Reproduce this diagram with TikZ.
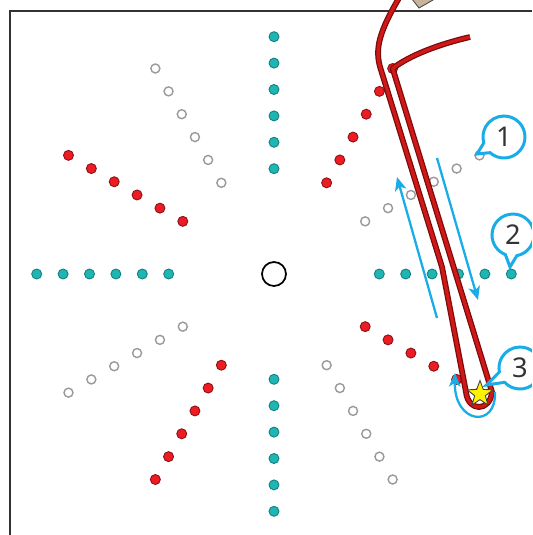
\documentclass[tikz,border=0pt]{standalone}
\usepackage{fontspec}
\newfontfamily\numfont{Noto Sans}
\usetikzlibrary{shapes.geometric,shapes.callouts,arrows.meta}
\definecolor{tealfill}{HTML}{1FB5B3}
\definecolor{tealedge}{HTML}{137F7E}
\definecolor{redfill}{HTML}{EC1C24}
\definecolor{rededge}{HTML}{8C1014}
\definecolor{greyedge}{HTML}{9A9A9A}
\definecolor{routered}{HTML}{D01818}
\definecolor{routeedge}{HTML}{7A0A0A}
\definecolor{guide}{HTML}{19ADE8}
\definecolor{boxtan}{HTML}{C8B49C}
\tikzset{
  tealspot/.style={circle, draw=tealedge, fill=tealfill, line width=0.5pt, minimum size=0.2cm, inner sep=0pt},
  redspot/.style={circle, draw=rededge, fill=redfill, line width=0.5pt, minimum size=0.2cm, inner sep=0pt},
  greyspot/.style={circle, draw=greyedge, fill=white, line width=0.8pt, minimum size=0.18cm, inner sep=0pt},
  routeline/.style={draw=routeedge, double=routered, line width=0.7pt, double distance=1.9pt, line join=round},
  guideline/.style={draw=guide, line width=1.3pt, -{Stealth[length=2.7mm, width=2.3mm, inset=0.7mm]}},
  numcallout/.style={ellipse callout, draw=guide, line width=1.7pt, fill=white, minimum width=0.84cm,
    minimum height=0.84cm, inner sep=0pt, callout pointer arc=32, text=black!80,
    font=\numfont\fontsize{15.5}{15.5}\selectfont}
}
\begin{document}
\begin{tikzpicture}
  \useasboundingbox (-5.48,-5.22) rectangle (5.16,5.48);
  \clip (-5.48,-5.22) rectangle (5.16,5.48);
  \fill[white] (-5.48,-5.22) rectangle (5.16,5.48);
  \draw[black!80, line width=0.7pt] (-5.28,-5.4) -- (-5.28,5.26) -- (5.4,5.26);
  \draw[fill=boxtan, draw=black!70, line width=0.5pt] (2.76,5.50) -- (2.90,5.32) -- (3.18,5.48) -- (3.04,5.68) -- cycle;
  \node[circle, draw, line width=1pt, minimum size=0.48cm] (hub) at (0,0) {};
  \foreach \a/\s in {0/tealspot,30/greyspot,60/redspot,90/tealspot,120/greyspot,150/redspot,
                     180/tealspot,210/greyspot,240/redspot,270/tealspot,300/greyspot,330/redspot}
    \foreach \k in {0,...,5}
      \node[\s] (s\a-\k) at (\a:{2.106+0.528*\k}) {};
  \draw[routeline] (2.56,5.62) .. controls (2.1,4.85) and (2.0,4.5) .. (2.14,4.08)
    -- (3.36,0.14) -- (3.84,-2.36) .. controls (3.88,-2.76) and (4.32,-2.76) .. (4.36,-2.36)
    -- (s60-5.center) .. controls (2.72,4.38) and (3.32,4.60) .. (3.92,4.74);
  \coordinate (down-a) at (3.26,2.32);
  \coordinate (down-b) at (4.08,-0.52);
  \coordinate (up-a) at (3.26,-0.88);
  \coordinate (up-b) at (2.46,1.94);
  \coordinate (turn-a) at (4.42,-2.36);
  \coordinate (turn-b) at (3.62,-1.98);
  \draw[guideline] (down-a) -- (down-b);
  \draw[guideline] (up-a) -- (up-b);
  \draw[guideline] (turn-a) .. controls (4.45,-3.1) and (3.6,-3.0) .. (turn-b);
  \node[star, star points=5, star point ratio=2.4, minimum size=0.54cm, inner sep=0pt,
        fill=yellow, draw=black!75, line width=0.5pt] (goal) at (4.12,-2.40) {};
  \coordinate (p1) at (4.06,2.40);
  \coordinate (p2) at (4.72,0.14);
  \coordinate (p3) at (4.25,-2.22);
  \node[numcallout, callout absolute pointer={(p1)}] (c1) at (4.60,2.74) {1};
  \node[numcallout, callout absolute pointer={(p2)}] (c2) at (4.78,0.78) {2};
  \node[numcallout, callout absolute pointer={(p3)}] (c3) at (4.92,-1.88) {3};
\end{tikzpicture}
\end{document}
